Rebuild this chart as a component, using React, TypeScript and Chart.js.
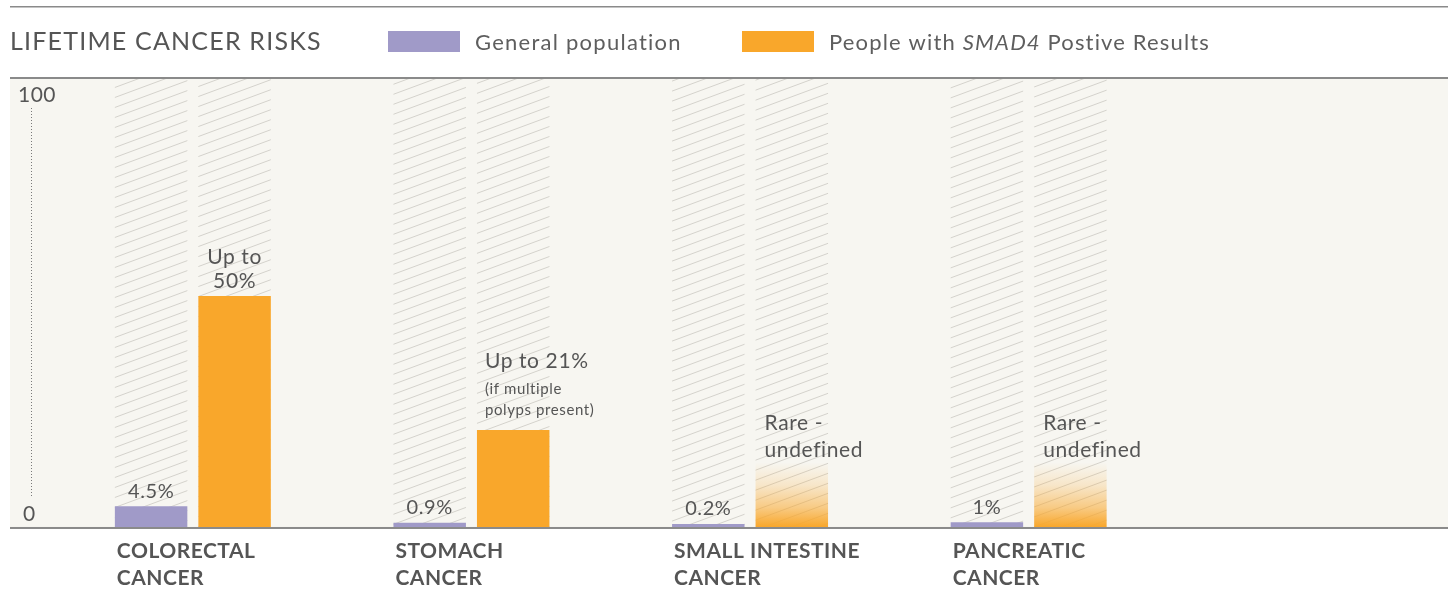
import React, { useEffect, useRef } from "react";
import { Chart, registerables } from "chart.js";

Chart.register(...registerables);

// ---------- data ----------
const categories: string[][] = [
  ["COLORECTAL", "CANCER"],
  ["STOMACH", "CANCER"],
  ["SMALL INTESTINE", "CANCER"],
  ["PANCREATIC", "CANCER"],
];
const generalValues = [4.5, 0.9, 0.2, 1];
const generalLabels = ["4.5%", "0.9%", "0.2%", "1%"];
// "Rare - undefined" risks are shown as a fading bar of about this height
const smadValues = [50, 21, 14, 14];
const smadRare = [false, false, true, true];
const smadLabels: string[][] = [
  ["Up to", "50%"],
  ["Up to 21%"],
  ["Rare -", "undefined"],
  ["Rare -", "undefined"],
];
const smadNotes: string[][] = [[], ["(if multiple", "polyps present)"], [], []];
const yTickLabels = ["0", "100"];
const legendGeneral = "General population";
const legendSmadParts = ["People with ", "SMAD4", " Postive Results"];
const titleText = "LIFETIME CANCER RISKS";

// ---------- style ----------
const FONT = "Lato, 'Open Sans', sans-serif";
const TEXT = "#555555";
const PURPLE = "#a09ac8";
const ORANGE = "#f9a72b";
const PLOT_BG = "#f7f6f1";
const RULE = "#8a8a8a";
const Y_MAX = 97;

function makeHatch(ctx: CanvasRenderingContext2D) {
  const c = document.createElement("canvas");
  c.width = 27;
  c.height = 10;
  const g = c.getContext("2d")!;
  g.strokeStyle = "#d4d2cc";
  g.lineWidth = 1;
  for (const dy of [-10, 0, 10]) {
    g.beginPath();
    g.moveTo(0, 10 + dy);
    g.lineTo(27, dy);
    g.stroke();
  }
  return ctx.createPattern(c, "repeat")!;
}

export default function App() {
  const ref = useRef<HTMLCanvasElement>(null);

  useEffect(() => {
    const canvas = ref.current!;
    const ctx2d = canvas.getContext("2d")!;
    const hatch = makeHatch(ctx2d);

    const decor = {
      id: "decor",
      beforeDraw(chart: any) {
        const c = chart.ctx as any;
        const W = chart.width;
        const ys = chart.scales.y;
        const top = ys.getPixelForValue(Y_MAX);
        const bottom = ys.getPixelForValue(0);
        c.save();
        // rules and plot background
        c.fillStyle = RULE;
        c.fillRect(10, 6, W - 13, 1.5);
        c.fillStyle = PLOT_BG;
        c.fillRect(10, top - 1, W - 13, bottom - top + 2);
        c.fillStyle = RULE;
        c.fillRect(10, top - 2, W - 13, 2);
        c.fillRect(10, bottom, W - 13, 2);

        // title + legend
        c.textBaseline = "alphabetic";
        c.textAlign = "left";
        c.fillStyle = TEXT;
        c.letterSpacing = "1.2px";
        c.font = `25px ${FONT}`;
        c.fillText(titleText, 10, 50);
        c.fillStyle = PURPLE;
        c.fillRect(388, 31, 72, 21);
        c.fillStyle = ORANGE;
        c.fillRect(742, 31, 72, 21);
        c.fillStyle = "#5e5e5e";
        c.letterSpacing = "1.25px";
        c.font = `22px ${FONT}`;
        c.fillText(legendGeneral, 475, 50);
        c.letterSpacing = "1.15px";
        let x = 829;
        legendSmadParts.forEach((p, i) => {
          c.font = i === 1 ? `italic 22px ${FONT}` : `22px ${FONT}`;
          c.fillText(p, x, 50);
          x += c.measureText(p).width;
        });

        // y axis marks
        c.letterSpacing = "0.5px";
        c.fillStyle = TEXT;
        c.font = `21px ${FONT}`;
        c.fillText(yTickLabels[1], 18, top + 22.5);
        c.fillText(yTickLabels[0], 23, bottom - 5.5);
        c.strokeStyle = "#7a7a7a";
        c.lineWidth = 1;
        c.setLineDash([1, 2]);
        c.beginPath();
        c.moveTo(31.5, top + 29);
        c.lineTo(31.5, bottom - 30);
        c.stroke();
        c.restore();
        // slightly wider tracking for the axis labels drawn by the library
        c.letterSpacing = "0.5px";
      },
      afterDatasetsDraw(chart: any) {
        const c = chart.ctx as any;
        c.save();
        c.letterSpacing = "0.6px";
        c.fillStyle = TEXT;
        c.textBaseline = "alphabetic";
        c.font = `20px ${FONT}`;
        c.textAlign = "center";
        chart.getDatasetMeta(0).data.forEach((bar: any, i: number) => {
          c.fillText(generalLabels[i], bar.x, bar.y - 8.5);
        });
        chart.getDatasetMeta(1).data.forEach((bar: any, i: number) => {
          const left = bar.x - bar.width / 2 + 8;
          const lines = smadLabels[i];
          const notes = smadNotes[i];
          c.font = `21px ${FONT}`;
          if (notes.length) {
            c.textAlign = "left";
            c.fillText(lines[0], left, bar.y - 62);
            c.font = `15px ${FONT}`;
            c.fillText(notes[0], left, bar.y - 36);
            c.fillText(notes[1], left, bar.y - 15);
          } else if (smadRare[i]) {
            c.textAlign = "left";
            c.fillText(lines[0], left + 1, bar.y - 32);
            c.fillText(lines[1], left + 1, bar.y - 5);
          } else {
            c.textAlign = "center";
            c.fillText(lines[0], bar.x, bar.y - 32);
            c.fillText(lines[1], bar.x, bar.y - 8);
          }
        });
        c.restore();
      },
    };

    const smadColor = (ctx: any) => {
      const i = ctx.dataIndex;
      if (!smadRare[i]) return ORANGE;
      const ys = ctx.chart.scales.y;
      if (!ys) return ORANGE;
      const y0 = ys.getPixelForValue(0);
      const y1 = ys.getPixelForValue(smadValues[i]);
      const g = ctx.chart.ctx.createLinearGradient(0, y0, 0, y1);
      g.addColorStop(0, "rgba(249,167,43,1)");
      g.addColorStop(0.3, "rgba(249,167,43,0.55)");
      g.addColorStop(0.65, "rgba(249,167,43,0.2)");
      g.addColorStop(1, "rgba(249,167,43,0)");
      return g;
    };

    const barShape = { categoryPercentage: 0.5994, barPercentage: 0.868, borderWidth: 0 };

    const chart = new Chart(canvas, {
      type: "bar",
      data: {
        labels: categories,
        datasets: [
          { label: legendGeneral, data: generalValues, backgroundColor: PURPLE, stack: "gen", order: 1, minBarLength: 3, ...barShape },
          { label: legendSmadParts.join(""), data: smadValues, backgroundColor: smadColor, stack: "smad", order: 1, ...barShape },
          { label: "track-gen", data: categories.map(() => Y_MAX), backgroundColor: hatch, stack: "gen", order: 2, ...barShape },
          { label: "track-smad", data: categories.map(() => Y_MAX), backgroundColor: hatch, stack: "smad", order: 2, ...barShape },
        ],
      } as any,
      options: {
        responsive: false,
        animation: false,
        devicePixelRatio: 1,
        layout: { padding: { top: 79, left: 53.55, right: 283.05, bottom: 38 } },
        plugins: {
          legend: { display: false },
          tooltip: { enabled: false },
          title: { display: false },
        },
        scales: {
          x: {
            grid: { display: false, drawTicks: false },
            border: { display: false },
            ticks: {
              align: "start",
              labelOffset: -76,
              padding: 10,
              color: TEXT,
              autoSkip: false,
              maxRotation: 0,
              font: { family: FONT, size: 21, weight: "bold", lineHeight: 1.31 },
            },
            afterFit(s: any) {
              s.paddingLeft = 0;
              s.paddingRight = 0;
            },
          },
          y: { display: false, min: 0, max: Y_MAX, stacked: false },
        },
      } as any,
      plugins: [decor],
    });
    return () => chart.destroy();
  }, []);

  return (
    <div style={{ position: "fixed", left: 0, top: 0, width: 1451, height: 594, overflow: "hidden", background: "#fff" }}>
      <canvas ref={ref} width={1451} height={640} style={{ display: "block", width: 1451, height: 640 }} />
    </div>
  );
}
